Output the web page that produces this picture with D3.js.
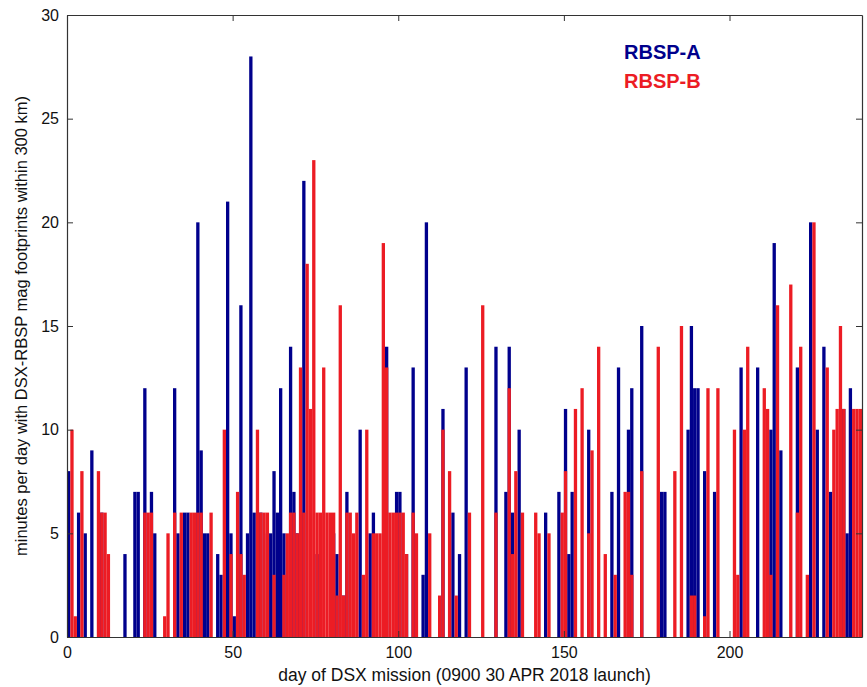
<!DOCTYPE html>
<html lang="en">
<head>
<meta charset="UTF-8">
<title>DSX-RBSP conjunctions</title>
<script src="https://d3js.org/d3.v7.min.js"></script>
<style>
  html, body { margin: 0; padding: 0; background: #fff; }
  svg { display: block; font-family: Arial, "Liberation Sans", sans-serif; }
</style>
</head>
<body>
<svg id="chart" width="867" height="687"></svg>
<script>
// daily minutes, index = day of mission (0..239)
var rbspA = [
  8,0,0,6,0,5,0,9,0,0, 6,0,0,0,0,0,0,4,0,0,
  7,7,0,12,0,7,5,0,0,0, 0,0,12,5,0,6,6,0,0,20,
  9,5,5,0,0,4,3,0,21,5, 1,0,16,0,5,28,6,0,6,0,
  5,5,8,6,12,5,0,14,7,5, 0,22,0,0,0,4,0,0,0,0,
  5,4,0,2,7,0,0,0,10,0, 0,5,6,0,0,0,14,0,0,7,
  7,0,4,0,13,0,0,3,20,0, 0,0,0,11,0,0,6,0,4,0,
  13,0,0,0,0,0,0,0,0,14, 0,0,7,14,6,0,10,0,0,0,
  0,0,0,0,6,0,0,0,7,0, 11,4,7,0,0,0,0,10,0,0,
  0,0,0,0,7,0,13,0,0,10, 12,0,0,15,0,0,0,0,0,7,
  7,0,0,0,0,0,0,10,15,12, 12,0,8,0,0,7,0,0,0,0,
  0,0,0,13,0,0,0,0,13,0, 0,0,10,19,0,9,0,0,0,0,
  13,0,0,0,20,0,10,0,14,0, 7,0,0,0,11,5,12,0,0,0
];
var rbspB = [
  0,10,1,0,8,0,0,0,0,8, 6,6,4,0,0,0,0,0,0,0,
  0,0,0,6,6,6,0,0,0,1, 5,0,6,0,6,0,0,6,6,6,
  6,0,0,6,0,0,0,10,0,4, 0,7,4,3,0,0,0,10,6,6,
  6,0,3,0,0,3,5,6,6,5, 13,6,18,11,23,6,6,13,6,6,
  6,2,16,2,6,6,5,6,0,3, 10,0,5,5,5,19,13,6,6,6,
  6,6,4,0,6,5,0,0,0,5, 0,0,2,10,0,8,0,2,0,0,
  0,6,0,0,0,16,0,0,0,6, 0,0,0,12,4,8,0,6,0,0,
  0,6,5,0,0,5,0,0,0,6, 8,0,0,11,0,12,0,5,9,0,
  14,0,4,0,0,3,0,0,7,7, 3,0,0,8,0,0,0,0,14,0,
  0,0,0,8,0,15,0,0,2,2, 0,0,1,12,0,0,12,0,0,0,
  0,10,3,0,10,14,0,0,0,0, 12,11,3,0,16,0,0,0,17,0,
  6,14,0,3,0,20,0,0,0,13, 0,10,11,15,11,0,0,11,11,11
];
var xTicks = [0, 50, 100, 150, 200];
var yTicks = [0, 5, 10, 15, 20, 25, 30];
var seriesNames = ["RBSP-A", "RBSP-B"];

var colorA = "#00008c";
var colorB = "#ec1c24";

var svg = d3.select("#chart");
var margin = {left: 67, right: 5, top: 15, bottom: 50};
var W = 867, H = 687;
var x = d3.scaleLinear().domain([0, 240]).range([margin.left, W - margin.right]);
var y = d3.scaleLinear().domain([0, 30]).range([H - margin.bottom, margin.top]);

var days = d3.range(240);

function drawBars(vals, color) {
  svg.append("g").selectAll("rect")
    .data(days.filter(function (d) { return vals[d] > 0; }))
    .join("rect")
    .attr("x", function (d) { return x(d); })
    .attr("width", function (d) { return x(d + 1) - x(d); })
    .attr("y", function (d) { return y(vals[d]); })
    .attr("height", function (d) { return y(0) - y(vals[d]); })
    .attr("fill", color);
}
drawBars(rbspA, colorA);
drawBars(rbspB, colorB);

// frame and ticks (matlab style, inward)
var axisColor = "#333";
var gx = svg.append("g").attr("transform", "translate(0," + y(0) + ")")
  .call(d3.axisBottom(x).tickValues(xTicks).tickSizeInner(-6).tickSizeOuter(0).tickPadding(10));
var gxt = svg.append("g").attr("transform", "translate(0," + y(30) + ")")
  .call(d3.axisTop(x).tickValues(xTicks).tickSizeInner(-6).tickSizeOuter(0).tickFormat(""));
var gy = svg.append("g").attr("transform", "translate(" + x(0) + ",0)")
  .call(d3.axisLeft(y).tickValues(yTicks).tickSizeInner(-6).tickSizeOuter(0).tickPadding(8));
var gyr = svg.append("g").attr("transform", "translate(" + x(240) + ",0)")
  .call(d3.axisRight(y).tickValues(yTicks).tickSizeInner(-6).tickSizeOuter(0).tickFormat(""));

[gx, gxt, gy, gyr].forEach(function (g) {
  g.select(".domain").attr("stroke", axisColor).attr("stroke-width", 1.2);
  g.selectAll(".tick line").attr("stroke", axisColor);
  g.selectAll("text").attr("font-size", 16).attr("fill", "#111")
    .attr("font-family", "Arial, 'Liberation Sans', sans-serif");
});

svg.append("text")
  .attr("x", x(120)).attr("y", 681)
  .attr("text-anchor", "middle").attr("font-size", 17.5).attr("fill", "#111")
  .text("day of DSX mission (0900 30 APR 2018 launch)");

svg.append("text")
  .attr("transform", "translate(27," + y(15) + ") rotate(-90)")
  .attr("text-anchor", "middle").attr("font-size", 16.5).attr("fill", "#111")
  .text("minutes per day with DSX-RBSP mag footprints within 300 km)");

// legend
svg.selectAll(".leg").data(seriesNames).join("text")
  .attr("class", "leg")
  .attr("x", 624)
  .attr("y", function (d, i) { return 59 + i * 29; })
  .attr("font-size", 20).attr("font-weight", "bold")
  .attr("fill", function (d, i) { return i === 0 ? colorA : colorB; })
  .text(function (d) { return d; });
</script>
</body>
</html>
